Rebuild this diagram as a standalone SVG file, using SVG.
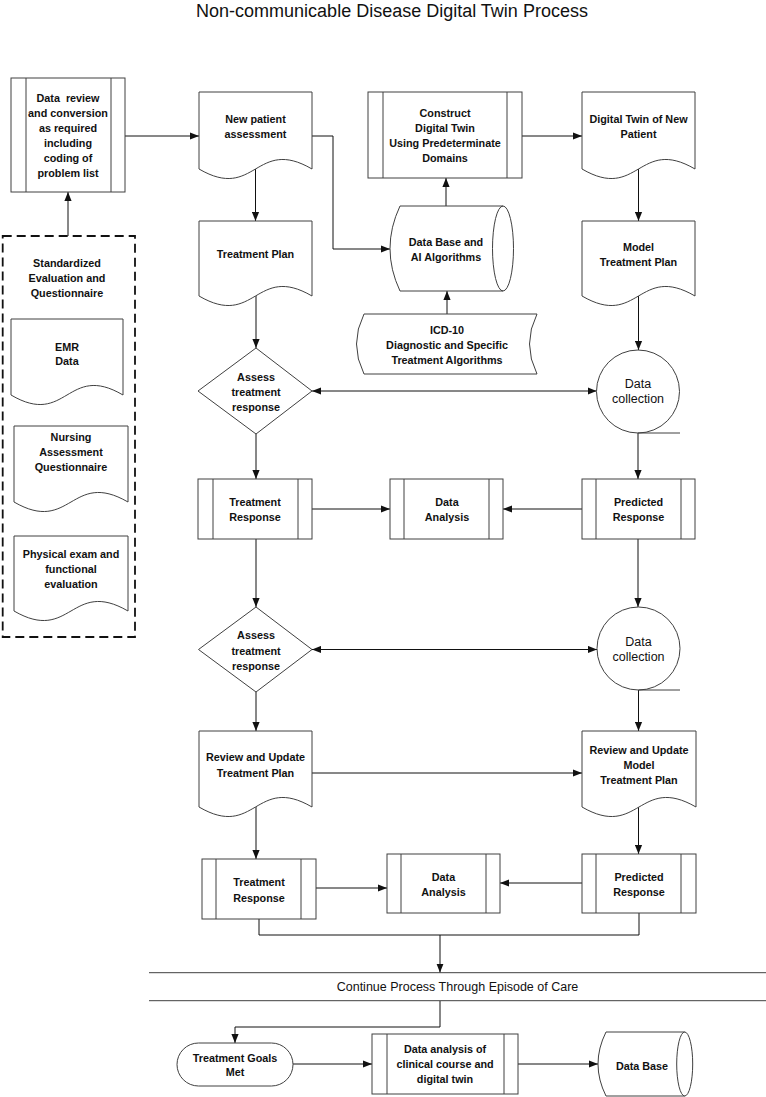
<svg xmlns="http://www.w3.org/2000/svg" width="766" height="1097" viewBox="0 0 766 1097">
<style>
.s{fill:#fff;stroke:#404040;stroke-width:1}
.n{fill:none;stroke:#404040;stroke-width:1}
.t{font-family:"Liberation Sans",Arial,sans-serif;font-size:10.8px;font-weight:bold;text-anchor:middle;fill:#111}
.r{font-family:"Liberation Sans",Arial,sans-serif;font-size:12.5px;text-anchor:middle;fill:#111}
.c{fill:none;stroke:#111;stroke-width:1}
.ca{fill:none;stroke:#111;stroke-width:1;marker-end:url(#a)}
.cb{fill:none;stroke:#111;stroke-width:1;marker-end:url(#a);marker-start:url(#a)}
</style>
<defs>
<marker id="a" viewBox="0 0 10 8" refX="10" refY="4" markerWidth="9" markerHeight="8" markerUnits="userSpaceOnUse" orient="auto-start-reverse">
<path d="M0,0 L10,4 L0,8 Z" fill="#111"/>
</marker>
</defs>
<rect width="766" height="1097" fill="#fff"/>
<text x="392" y="17" font-family="Liberation Sans,Arial,sans-serif" font-size="18" text-anchor="middle" fill="#111">Non-communicable Disease Digital Twin Process</text>

<g id="connectors">
<path class="ca" d="M125,136 H199"/>
<path class="ca" d="M68,236 V192"/>
<path class="ca" d="M255.5,169 V221"/>
<path class="ca" d="M312,136 H333 V249 H390"/>
<path class="ca" d="M446,206 V178"/>
<path class="ca" d="M447,314 V291"/>
<path class="ca" d="M522,136 H582"/>
<path class="ca" d="M638.5,169 V221"/>
<path class="ca" d="M256,296 V348"/>
<path class="ca" d="M638.5,296 V350"/>
<path class="cb" d="M312,391 H596.5"/>
<path class="ca" d="M256,434 V479"/>
<path class="ca" d="M638,433 V479"/>
<path class="ca" d="M312,509 H390"/>
<path class="ca" d="M582,509 H503"/>
<path class="ca" d="M256,539 V607"/>
<path class="ca" d="M638,539 V607"/>
<path class="cb" d="M312,649.5 H597"/>
<path class="ca" d="M256,692 V731"/>
<path class="ca" d="M638.5,690 V731"/>
<path class="ca" d="M312,773 H582"/>
<path class="ca" d="M256,807 V859"/>
<path class="ca" d="M638.5,807 V854"/>
<path class="ca" d="M316,888 H387"/>
<path class="ca" d="M582,883 H500"/>
<path class="c" d="M259,919 V935 H440 M639,913 V935 H440"/>
<path class="ca" d="M440,935 V972.5"/>
<path class="ca" d="M440,1001 V1027 H235 V1043"/>
<path class="ca" d="M293,1064 H372"/>
<path class="ca" d="M518,1064 H598"/>
</g>

<g id="data-review">
<rect class="s" x="11" y="78" width="114" height="114"/>
<path class="n" d="M26,78 V192 M111,78 V192"/>
<text class="t" style="white-space:pre"><tspan x="68" y="102">Data  review</tspan><tspan x="68" y="117">and conversion</tspan><tspan x="68" y="132">as required</tspan><tspan x="68" y="147">including</tspan><tspan x="68" y="162">coding of</tspan><tspan x="68" y="177">problem list</tspan></text>
</g>

<g id="standardized-evaluation">
<rect x="2.7" y="236" width="132.3" height="401" fill="none" stroke="#111" stroke-width="1.8" stroke-dasharray="9 5"/>
<text class="t"><tspan x="67" y="267">Standardized</tspan><tspan x="67" y="282">Evaluation and</tspan><tspan x="67" y="297">Questionnaire</tspan></text>
</g>

<g id="emr-data">
<path class="s" d="M11,319 H123 V395 C67,362 67,428 11,395 Z"/>
<text class="t"><tspan x="67" y="351">EMR</tspan><tspan x="67" y="365">Data</tspan></text>
</g>

<g id="nursing-assessment">
<path class="s" d="M14,426 H128 V502 C71,469 71,535 14,502 Z"/>
<text class="t"><tspan x="71" y="441">Nursing</tspan><tspan x="71" y="456">Assessment</tspan><tspan x="71" y="471">Questionnaire</tspan></text>
</g>

<g id="physical-exam">
<path class="s" d="M14,536 H128 V611 C71,578 71,644 14,611 Z"/>
<text class="t"><tspan x="71" y="558">Physical exam and</tspan><tspan x="71" y="573">functional</tspan><tspan x="71" y="588">evaluation</tspan></text>
</g>

<g id="new-patient-assessment">
<path class="s" d="M199,92 H312 V169 C255.5,136 255.5,202 199,169 Z"/>
<text class="t"><tspan x="255.5" y="123">New patient</tspan><tspan x="255.5" y="138">assessment</tspan></text>
</g>

<g id="treatment-plan">
<path class="s" d="M199,221 H312 V296 C255.5,263 255.5,329 199,296 Z"/>
<text class="t"><tspan x="255.5" y="258">Treatment Plan</tspan></text>
</g>

<g id="construct-digital-twin">
<rect class="s" x="368" y="92" width="154" height="86"/>
<path class="n" d="M383,92 V178 M507,92 V178"/>
<text class="t"><tspan x="445" y="117">Construct</tspan><tspan x="445" y="132">Digital Twin</tspan><tspan x="445" y="147">Using Predeterminate</tspan><tspan x="445" y="162">Domains</tspan></text>
</g>

<g id="digital-twin-new-patient">
<path class="s" d="M582,92 H695 V169 C638.5,136 638.5,202 582,169 Z"/>
<text class="t"><tspan x="638.5" y="123">Digital Twin of New</tspan><tspan x="638.5" y="138">Patient</tspan></text>
</g>

<g id="model-treatment-plan">
<path class="s" d="M582,221 H695 V296 C638.5,263 638.5,329 582,296 Z"/>
<text class="t"><tspan x="638.5" y="251">Model</tspan><tspan x="638.5" y="266">Treatment Plan</tspan></text>
</g>

<g id="database-ai">
<path class="s" d="M400,206 H503 A10.5,42.5 0 0 1 503,291 H400 Q380,248.5 400,206 Z"/>
<path class="n" d="M503,206 A10.5,42.5 0 0 0 503,291"/>
<text class="t"><tspan x="446" y="246">Data Base and</tspan><tspan x="446" y="261">AI Algorithms</tspan></text>
</g>

<g id="icd-10">
<path class="s" d="M364,314 H537 Q522,344 537,374 H364 Q349,344 364,314 Z"/>
<text class="t"><tspan x="447" y="334">ICD-10</tspan><tspan x="447" y="349">Diagnostic and Specific</tspan><tspan x="447" y="364">Treatment Algorithms</tspan></text>
</g>

<g id="assess-response-1">
<path class="s" d="M256,348 L312,391 L256,434 L198,391 Z"/>
<text class="t"><tspan x="256" y="381">Assess</tspan><tspan x="256" y="396">treatment</tspan><tspan x="256" y="411">response</tspan></text>
</g>

<g id="data-collection-1">
<circle class="s" cx="638" cy="391.5" r="41.5"/>
<path class="n" d="M638,433 H680"/>
<text class="r"><tspan x="638" y="388">Data</tspan><tspan x="638" y="403">collection</tspan></text>
</g>

<g id="treatment-response-1">
<rect class="s" x="198" y="479" width="114" height="60"/>
<path class="n" d="M213,479 V539 M298,479 V539"/>
<text class="t"><tspan x="255" y="506">Treatment</tspan><tspan x="255" y="521">Response</tspan></text>
</g>

<g id="data-analysis-1">
<rect class="s" x="390" y="479" width="113" height="60"/>
<path class="n" d="M404,479 V539 M489,479 V539"/>
<text class="t"><tspan x="447" y="506">Data</tspan><tspan x="447" y="521">Analysis</tspan></text>
</g>

<g id="predicted-response-1">
<rect class="s" x="582" y="479" width="113" height="60"/>
<path class="n" d="M596,479 V539 M681,479 V539"/>
<text class="t"><tspan x="638.5" y="506">Predicted</tspan><tspan x="638.5" y="521">Response</tspan></text>
</g>

<g id="assess-response-2">
<path class="s" d="M256,607 L312,649.5 L256,692 L198.5,649.5 Z"/>
<text class="t"><tspan x="256" y="639">Assess</tspan><tspan x="256" y="654.5">treatment</tspan><tspan x="256" y="670">response</tspan></text>
</g>

<g id="data-collection-2">
<circle class="s" cx="638.5" cy="648.5" r="41.5"/>
<path class="n" d="M638.5,690 H680"/>
<text class="r"><tspan x="638.5" y="646">Data</tspan><tspan x="638.5" y="661">collection</tspan></text>
</g>

<g id="review-update-plan">
<path class="s" d="M199,731 H312 V807 C255.5,774 255.5,840 199,807 Z"/>
<text class="t"><tspan x="255.5" y="761">Review and Update</tspan><tspan x="255.5" y="777">Treatment Plan</tspan></text>
</g>

<g id="review-update-model-plan">
<path class="s" d="M582,731 H696 V807 C639,774 639,840 582,807 Z"/>
<text class="t"><tspan x="639" y="754">Review and Update</tspan><tspan x="639" y="769">Model</tspan><tspan x="639" y="784">Treatment Plan</tspan></text>
</g>

<g id="treatment-response-2">
<rect class="s" x="202" y="859" width="114" height="60"/>
<path class="n" d="M216,859 V919 M301,859 V919"/>
<text class="t"><tspan x="259" y="886">Treatment</tspan><tspan x="259" y="902">Response</tspan></text>
</g>

<g id="data-analysis-2">
<rect class="s" x="387" y="854" width="113" height="59"/>
<path class="n" d="M401,854 V913 M486,854 V913"/>
<text class="t"><tspan x="443.5" y="881">Data</tspan><tspan x="443.5" y="896">Analysis</tspan></text>
</g>

<g id="predicted-response-2">
<rect class="s" x="582" y="854" width="114" height="59"/>
<path class="n" d="M596,854 V913 M681,854 V913"/>
<text class="t"><tspan x="639" y="881">Predicted</tspan><tspan x="639" y="896">Response</tspan></text>
</g>

<g id="continue-process">
<path class="n" d="M149,972.7 H766 M149,1000.7 H766"/>
<text class="r" x="457.5" y="991">Continue Process Through Episode of Care</text>
</g>

<g id="treatment-goals-met">
<rect class="s" x="177" y="1043" width="116" height="43" rx="21.5" ry="21.5"/>
<text class="t"><tspan x="235" y="1062">Treatment Goals</tspan><tspan x="235" y="1076">Met</tspan></text>
</g>

<g id="data-analysis-clinical">
<rect class="s" x="372" y="1034" width="146" height="60"/>
<path class="n" d="M387,1034 V1094 M504,1034 V1094"/>
<text class="t"><tspan x="445" y="1053">Data analysis of</tspan><tspan x="445" y="1068">clinical course and</tspan><tspan x="445" y="1083">digital twin</tspan></text>
</g>

<g id="data-base">
<path class="s" d="M606,1032 H684.7 A8,32 0 0 1 684.7,1096 H606 Q590,1064 606,1032 Z"/>
<path class="n" d="M684.7,1032 A8,32 0 0 0 684.7,1096"/>
<text class="t" x="642" y="1070">Data Base</text>
</g>
</svg>
